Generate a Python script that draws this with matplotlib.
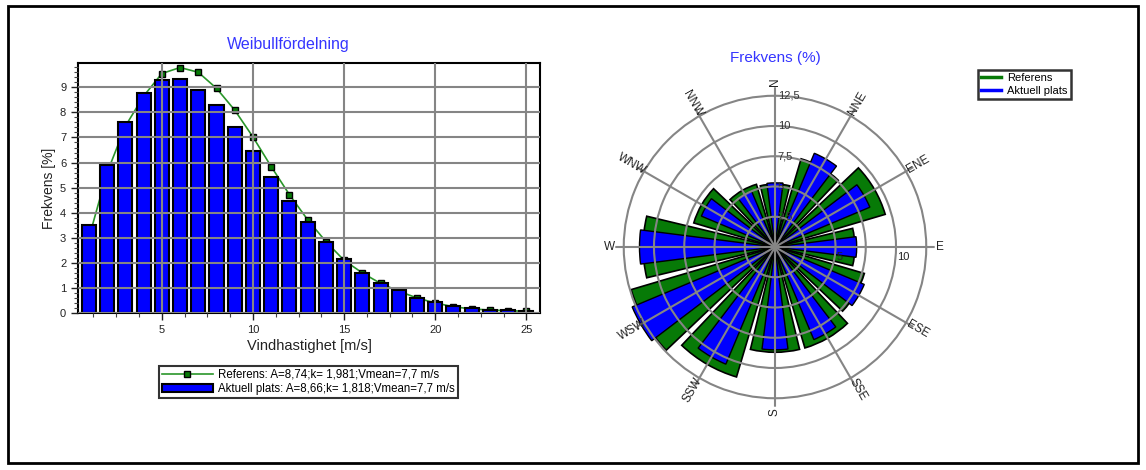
import matplotlib
matplotlib.use('Agg')
import matplotlib.pyplot as plt
import numpy as np
from matplotlib.lines import Line2D
from matplotlib.patches import Patch, Rectangle

plt.rcParams['font.family'] = ['Liberation Sans', 'DejaVu Sans']

# ---------------- data ----------------
speeds = list(range(1, 26))
actual_freq = [3.5, 5.9, 7.62, 8.76, 9.3, 9.35, 8.9, 8.29, 7.42, 6.46, 5.44, 4.48, 3.61,
               2.83, 2.14, 1.6, 1.2, 0.9, 0.6, 0.44, 0.27, 0.2, 0.13, 0.1, 0.07]
reference_freq = [3.0, 5.6, 7.45, 8.65, 9.55, 9.79, 9.6, 8.96, 8.09, 7.02, 5.84, 4.72, 3.72,
                  2.85, 2.1, 1.6, 1.18, 0.87, 0.6, 0.4, 0.25, 0.16, 0.12, 0.09, 0.07]
weibull_x_ticks = [5, 10, 15, 20, 25]
weibull_y_ticks = [0, 1, 2, 3, 4, 5, 6, 7, 8, 9]

legend_ref = "Referens: A=8,74;k= 1,981;Vmean=7,7 m/s"
legend_act = "Aktuell plats: A=8,66;k= 1,818;Vmean=7,7 m/s"

sector_names = ["N", "NNE", "ENE", "E", "ESE", "SSE", "S", "SSW", "WSW", "W", "WNW", "NNW"]
sector_deg = [0, 30, 60, 90, 120, 150, 180, 210, 240, 270, 300, 330]
rose_reference = [5.2, 7.6, 9.5, 6.6, 7.7, 8.7, 8.7, 11.2, 12.4, 10.9, 7.0, 5.4]
rose_actual = [5.3, 8.4, 8.5, 6.75, 8.0, 8.3, 8.5, 10.5, 12.8, 11.2, 6.6, 5.0]
rose_rings = [2.5, 5, 7.5, 10, 12.5]
ring_labels = ["2,5", "5", "7,5", "10", "12,5"]

# ---------------- figure ----------------
W, H = 1146, 470
fig = plt.figure(figsize=(W / 100, H / 100), dpi=100)
TITLE_BLUE = '#3535ff'
GREEN = '#077a07'
BLUE = '#0000ff'
GRID = '#858585'

# Weibull chart
ax = fig.add_axes([78 / W, 1 - 313 / H, 462 / W, 250 / H])
ax.plot(speeds, reference_freq, color='#2a962a', lw=1.2, marker='s', ms=5,
        mfc=GREEN, mec='black', mew=1.0, zorder=0.9)
ax.bar(speeds, actual_freq, width=0.77, color=BLUE, edgecolor='black', lw=1.5, zorder=1)
ax.set_xlim(0.4, 25.75)
ax.set_ylim(0, 9.97)
ax.set_xticks(weibull_x_ticks)
ax.set_xticks(np.arange(1.25, 25.7, 1.25), minor=True)
ax.set_yticks(weibull_y_ticks)
ax.set_yticks(np.arange(0, 9.9, 0.2), minor=True)
ax.grid(True, which='major', color=GRID, lw=1.5)
ax.set_axisbelow(False)
for s in ax.spines.values():
    s.set_linewidth(1.5)
ax.tick_params(which='major', length=5, width=1, labelsize=8, direction='out', colors='#222222')
ax.tick_params(which='minor', length=3, width=0.8, colors='#444444')
ax.set_xlabel('Vindhastighet [m/s]', fontsize=10.5, color='#222222', labelpad=3)
ax.set_ylabel('Frekvens [%]', fontsize=10, color='#222222', labelpad=3)
fig.text(288 / W, 1 - 44 / H, 'Weibullfördelning', color=TITLE_BLUE, fontsize=11.5,
         ha='center', va='center')

h_ref = Line2D([], [], color='#2a962a', lw=1.2, marker='s', ms=5, mfc=GREEN, mec='black')
h_act = Patch(facecolor=BLUE, edgecolor='black', lw=1.5)
leg = fig.legend([h_ref, h_act], [legend_ref, legend_act], loc='upper left',
                 bbox_to_anchor=(159 / W, 1 - 366 / H), fontsize=8.3, frameon=True,
                 fancybox=False, edgecolor='black', handlelength=4.4, borderpad=0.25,
                 labelspacing=0.2, handletextpad=0.5, borderaxespad=0)
leg.get_frame().set_linewidth(1.5)

# Wind rose
cx, cy = 775, 247
px_per_unit = 12.1
rmax = 13.2
rad = rmax * px_per_unit
axp = fig.add_axes([(cx - rad) / W, (H - cy - rad) / H, 2 * rad / W, 2 * rad / H],
                   projection='polar')
axp.set_theta_zero_location('N')
axp.set_theta_direction(-1)
theta = np.deg2rad(sector_deg)
axp.bar(theta, rose_reference, width=np.deg2rad(27), color=GREEN, edgecolor='black',
        lw=1.2, zorder=1)
axp.bar(theta, rose_actual, width=np.deg2rad(14.5), color=BLUE, edgecolor='black',
        lw=1.0, zorder=1.1)
axp.set_ylim(0, rmax)
axp.set_rgrids(rose_rings, labels=[''] * len(rose_rings))
axp.set_thetagrids(sector_deg, labels=[''] * len(sector_deg))
axp.grid(True, color=GRID, lw=1.5)
axp.set_axisbelow(False)
axp.spines['polar'].set_visible(False)
axp.patch.set_alpha(0)

for name, deg in zip(sector_names, sector_deg):
    rot = 90 - deg
    while rot <= -90:
        rot += 180
    while rot > 90:
        rot -= 180
    axp.text(np.deg2rad(deg), 13.65, name, rotation=rot, rotation_mode='anchor',
             ha='center', va='center', fontsize=8.5, color='#222222')

for r, lab in zip(rose_rings, ring_labels):
    axp.annotate(lab, xy=(0, r), xytext=(2, 0), textcoords='offset points',
                 ha='left', va='center', fontsize=8, color='#333333')
for r, lab in zip([5, 10], ["5", "10"]):
    axp.annotate(lab, xy=(np.pi / 2, r), xytext=(1, -7), textcoords='offset points',
                 ha='left', va='center', fontsize=8, color='#222222')

fig.text(775 / W, 1 - 58 / H, 'Frekvens (%)', color=TITLE_BLUE, fontsize=11,
         ha='center', va='center')

leg2 = fig.legend([Line2D([], [], color=GREEN, lw=2.5), Line2D([], [], color=BLUE, lw=2.5)],
                  ['Referens', 'Aktuell plats'], loc='upper left',
                  bbox_to_anchor=(978 / W, 1 - 70 / H), fontsize=8, frameon=True,
                  fancybox=False, edgecolor='black', handlelength=1.8, borderpad=0.3,
                  labelspacing=0.2, handletextpad=0.5, borderaxespad=0)
leg2.get_frame().set_linewidth(1.8)

# outer frame
fig.add_artist(Rectangle((8 / W, 1 - 463 / H), 1130 / W, 457 / H, transform=fig.transFigure,
                         fill=False, lw=2, ec='black'))

fig.savefig('out.png', dpi=100)
